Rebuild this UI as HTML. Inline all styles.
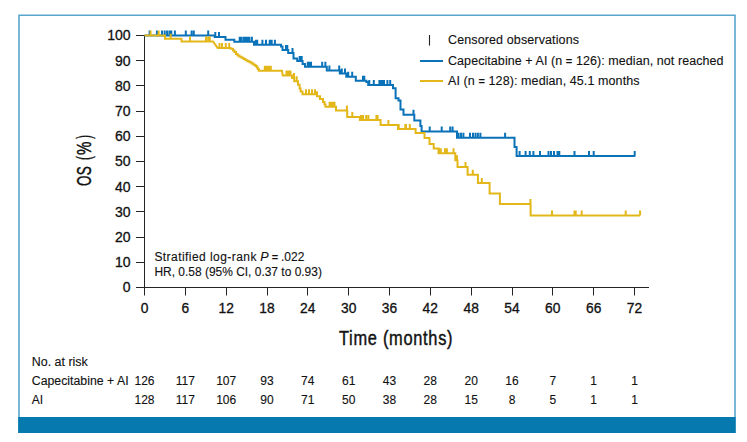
<!DOCTYPE html>
<html><head><meta charset="utf-8"><style>
html,body{margin:0;padding:0;background:#fff;width:747px;height:442px;overflow:hidden;font-family:"Liberation Sans",sans-serif;}
svg{display:block}
</style></head><body>
<svg width="747" height="442" viewBox="0 0 747 442">
<rect x="0" y="0" width="747" height="442" fill="#fff"/>
<path d="M19,433 V15.2 H735 V433" fill="none" stroke="#58a6cc" stroke-width="1.6"/>
<rect x="18.2" y="417" width="717.4" height="16" fill="#0679af"/>
<path d="M144.5,35 V287.5 M136,287.5 H649 M136,287.5 H144.5 M136,262.5 H144.5 M136,237.5 H144.5 M136,211.5 H144.5 M136,186.5 H144.5 M136,161.5 H144.5 M136,136.5 H144.5 M136,111.5 H144.5 M136,85.5 H144.5 M136,60.5 H144.5 M136,35.5 H144.5 M144.5,287.5 V295.5 M185.5,287.5 V295.5 M226.5,287.5 V295.5 M267.5,287.5 V295.5 M307.5,287.5 V295.5 M348.5,287.5 V295.5 M389.5,287.5 V295.5 M430.5,287.5 V295.5 M471.5,287.5 V295.5 M512.5,287.5 V295.5 M552.5,287.5 V295.5 M593.5,287.5 V295.5 M634.5,287.5 V295.5 " fill="none" stroke="#242424" stroke-width="1"/>
<path d="M144.5,35.4 L214.8,35.4 L214.8,36.9 L225.5,36.9 L225.5,39.8 L234.3,39.8 L234.3,41.8 L254.0,41.8 L254.0,44.8 L281.0,44.8 L281.0,46.4 L282.5,46.4 L282.5,50.0 L288.2,50.0 L288.2,52.9 L293.5,52.9 L293.5,58.4 L297.2,58.4 L297.2,60.9 L302.6,60.9 L302.6,64.1 L305.0,64.1 L305.0,66.7 L326.8,66.7 L326.8,70.4 L339.8,70.4 L339.8,73.6 L346.3,73.6 L346.3,76.8 L355.8,76.8 L355.8,80.8 L366.4,80.8 L366.4,82.0 L368.2,82.0 L368.2,84.9 L393.0,84.9 L393.0,88.2 L395.6,88.2 L395.6,98.2 L398.5,98.2 L398.5,100.6 L400.5,100.6 L400.5,109.6 L403.5,109.6 L403.5,114.8 L414.3,114.8 L414.3,120.6 L420.4,120.6 L420.4,126.1 L421.6,126.1 L421.6,131.4 L457.0,131.4 L457.0,137.7 L514.5,137.7 L514.5,147.1 L516.6,147.1 L516.6,156.0 L635.3,156.0 M149.6,35.4 V30.4 M156.9,35.4 V30.4 M162.0,35.4 V30.4 M164.7,35.4 V30.4 M167.1,35.4 V30.4 M169.5,35.4 V30.4 M171.3,35.4 V30.4 M174.9,35.4 V30.4 M185.8,35.4 V30.4 M191.6,35.4 V30.4 M193.8,35.4 V30.4 M208.2,35.4 V30.4 M215.3,36.9 V31.9 M219.0,36.9 V31.9 M239.7,41.8 V36.8 M241.0,41.8 V36.8 M243.3,41.8 V36.8 M244.9,41.8 V36.8 M246.5,41.8 V36.8 M248.4,41.8 V36.8 M249.4,41.8 V36.8 M251.9,41.8 V36.8 M256.0,44.8 V39.8 M257.2,44.8 V39.8 M262.4,44.8 V39.8 M266.0,44.8 V39.8 M269.7,44.8 V39.8 M271.7,44.8 V39.8 M274.9,44.8 V39.8 M286.0,50.0 V45.0 M287.3,50.0 V45.0 M292.5,52.9 V47.9 M299.7,60.9 V55.9 M301.7,60.9 V55.9 M307.8,66.7 V61.7 M309.4,66.7 V61.7 M311.0,66.7 V61.7 M322.2,66.7 V61.7 M325.4,66.7 V61.7 M329.4,70.4 V65.4 M339.2,70.4 V65.4 M341.8,73.6 V68.6 M345.0,73.6 V68.6 M348.2,76.8 V71.8 M352.2,76.8 V71.8 M363.0,80.8 V75.8 M364.3,80.8 V75.8 M369.3,84.9 V79.9 M373.8,84.9 V79.9 M379.4,84.9 V79.9 M381.0,84.9 V79.9 M382.5,84.9 V79.9 M384.0,84.9 V79.9 M387.4,84.9 V79.9 M390.2,84.9 V79.9 M413.5,114.8 V109.8 M429.7,131.4 V126.4 M441.7,131.4 V126.4 M450.2,131.4 V126.4 M452.6,131.4 V126.4 M458.6,137.7 V132.7 M461.0,137.7 V132.7 M463.4,137.7 V132.7 M470.0,137.7 V132.7 M473.0,137.7 V132.7 M475.5,137.7 V132.7 M477.9,137.7 V132.7 M480.4,137.7 V132.7 M505.1,137.7 V132.7 M519.6,156.0 V151.0 M525.6,156.0 V151.0 M529.8,156.0 V151.0 M533.4,156.0 V151.0 M540.0,156.0 V151.0 M548.5,156.0 V151.0 M551.0,156.0 V151.0 M554.0,156.0 V151.0 M557.5,156.0 V151.0 M559.3,156.0 V151.0 M574.5,156.0 V151.0 M589.0,156.0 V151.0 M593.7,156.0 V151.0 M634.7,156.0 V151.0" fill="none" stroke="#0a72b8" stroke-width="2"/>
<path d="M144.5,35.4 L165.0,35.4 L165.0,38.8 L181.5,38.8 L181.5,41.5 L213.0,41.5 L217.6,47.9 L230.0,47.9 L230.6,47.9 L230.6,48.7 L233.0,48.7 L233.0,50.4 L234.5,50.4 L234.5,51.9 L236.0,51.9 L236.0,53.9 L237.5,53.9 L237.5,55.6 L239.5,55.6 L239.5,56.8 L241.5,56.8 L241.5,57.8 L243.5,57.8 L243.5,59.0 L245.5,59.0 L245.5,60.2 L247.5,60.2 L247.5,61.2 L249.5,61.2 L249.5,62.2 L251.5,62.2 L251.5,63.4 L253.5,63.4 L253.5,64.7 L255.5,64.7 L255.5,66.0 L256.8,66.0 L256.8,67.4 L257.8,67.4 L257.8,69.0 L258.8,69.0 L258.8,70.8 L282.0,70.8 L282.8,75.6 L292.0,75.6 L292.0,78.0 L294.2,78.0 L294.2,81.2 L298.0,81.2 L298.0,84.8 L299.6,84.8 L299.6,88.4 L300.6,88.4 L300.6,91.4 L302.5,91.4 L302.5,94.2 L317.0,94.2 L317.0,96.3 L320.0,96.3 L320.0,99.0 L323.0,99.0 L323.0,101.9 L324.5,101.9 L324.5,104.4 L325.5,104.4 L325.5,106.7 L336.0,106.7 L336.0,110.4 L347.2,110.4 L347.2,117.1 L359.9,117.1 L359.9,120.0 L380.6,120.0 L380.6,124.9 L398.0,124.9 L398.0,128.9 L415.6,128.9 L415.6,133.1 L424.5,133.1 L424.5,137.9 L429.5,137.9 L429.5,143.9 L433.7,143.9 L433.7,148.6 L438.5,148.6 L438.5,153.3 L455.3,153.3 L455.3,160.3 L457.5,160.3 L457.5,166.9 L467.6,166.9 L467.6,174.7 L477.9,174.7 L477.9,182.9 L489.6,182.9 L489.6,193.4 L499.9,193.4 L499.9,204.1 L530.6,204.1 L530.6,215.4 L640.1,215.4 M150.6,35.4 V30.4 M158.7,35.4 V30.4 M170.7,38.8 V33.8 M190.0,41.5 V36.5 M206.0,41.5 V36.5 M208.2,41.5 V36.5 M209.8,41.5 V36.5 M219.5,47.9 V42.9 M222.0,47.9 V42.9 M225.8,47.9 V42.9 M229.2,47.9 V42.9 M264.8,70.8 V65.8 M266.8,70.8 V65.8 M268.8,70.8 V65.8 M270.8,70.8 V65.8 M286.5,75.6 V70.6 M288.5,75.6 V70.6 M290.5,75.6 V70.6 M294.0,78.0 V73.0 M296.7,81.2 V76.2 M306.0,94.2 V89.2 M309.0,94.2 V89.2 M312.0,94.2 V89.2 M315.0,94.2 V89.2 M317.0,96.3 V91.3 M329.6,106.7 V101.7 M331.0,106.7 V101.7 M333.0,106.7 V101.7 M334.5,106.7 V101.7 M346.9,110.4 V105.4 M352.3,117.1 V112.1 M361.0,120.0 V115.0 M363.0,120.0 V115.0 M366.2,120.0 V115.0 M368.4,120.0 V115.0 M376.4,120.0 V115.0 M377.6,120.0 V115.0 M388.4,124.9 V119.9 M398.7,128.9 V123.9 M405.3,128.9 V123.9 M406.0,128.9 V123.9 M409.8,128.9 V123.9 M439.6,153.3 V148.3 M440.8,153.3 V148.3 M445.0,153.3 V148.3 M446.9,153.3 V148.3 M453.5,153.3 V148.3 M457.0,160.3 V155.3 M465.5,166.9 V161.9 M472.8,174.7 V169.7 M481.8,182.9 V177.9 M530.4,204.1 V199.1 M552.0,215.4 V210.4 M574.5,215.4 V210.4 M575.7,215.4 V210.4 M581.7,215.4 V210.4 M625.7,215.4 V210.4 M640.1,215.4 V210.4" fill="none" stroke="#e3b71a" stroke-width="2"/>
<path d="M429.5,35 V45.6" stroke="#222" stroke-width="1.1"/>
<path d="M420,61 H443" stroke="#0a72b8" stroke-width="2"/>
<path d="M420,81 H443" stroke="#e3b71a" stroke-width="2"/>
<g font-family="Liberation Sans" style="font-variant-ligatures:none" fill="#111" stroke="#111" stroke-width="0.12">
<text x="130.5" y="292.4" font-size="14" text-anchor="end" stroke-width="0.3">0</text>
<text x="130.5" y="267.2" font-size="14" text-anchor="end" stroke-width="0.3">10</text>
<text x="130.5" y="242.0" font-size="14" text-anchor="end" stroke-width="0.3">20</text>
<text x="130.5" y="216.8" font-size="14" text-anchor="end" stroke-width="0.3">30</text>
<text x="130.5" y="191.6" font-size="14" text-anchor="end" stroke-width="0.3">40</text>
<text x="130.5" y="166.4" font-size="14" text-anchor="end" stroke-width="0.3">50</text>
<text x="130.5" y="141.2" font-size="14" text-anchor="end" stroke-width="0.3">60</text>
<text x="130.5" y="116.0" font-size="14" text-anchor="end" stroke-width="0.3">70</text>
<text x="130.5" y="90.8" font-size="14" text-anchor="end" stroke-width="0.3">80</text>
<text x="130.5" y="65.6" font-size="14" text-anchor="end" stroke-width="0.3">90</text>
<text x="130.5" y="40.4" font-size="14" text-anchor="end" stroke-width="0.3">100</text>
<text x="144.5" y="313.2" font-size="13.8" text-anchor="middle" stroke-width="0.3">0</text>
<text x="185.3" y="313.2" font-size="13.8" text-anchor="middle" stroke-width="0.3">6</text>
<text x="226.2" y="313.2" font-size="13.8" text-anchor="middle" stroke-width="0.3">12</text>
<text x="267.0" y="313.2" font-size="13.8" text-anchor="middle" stroke-width="0.3">18</text>
<text x="307.8" y="313.2" font-size="13.8" text-anchor="middle" stroke-width="0.3">24</text>
<text x="348.7" y="313.2" font-size="13.8" text-anchor="middle" stroke-width="0.3">30</text>
<text x="389.5" y="313.2" font-size="13.8" text-anchor="middle" stroke-width="0.3">36</text>
<text x="430.3" y="313.2" font-size="13.8" text-anchor="middle" stroke-width="0.3">42</text>
<text x="471.2" y="313.2" font-size="13.8" text-anchor="middle" stroke-width="0.3">48</text>
<text x="512.0" y="313.2" font-size="13.8" text-anchor="middle" stroke-width="0.3">54</text>
<text x="552.8" y="313.2" font-size="13.8" text-anchor="middle" stroke-width="0.3">60</text>
<text x="593.7" y="313.2" font-size="13.8" text-anchor="middle" stroke-width="0.3">66</text>
<text x="634.5" y="313.2" font-size="13.8" text-anchor="middle" stroke-width="0.3">72</text>
<text x="0" y="0" font-size="20.5" stroke-width="0.45" textLength="141.9" lengthAdjust="spacing" transform="translate(339,344.7) scale(0.8,1)">Time (months)</text>
<g transform="translate(91.3,186) rotate(-90)" stroke-width="0.45" font-size="20.5"><text x="0" y="0" transform="scale(0.66,1)" textLength="30.0" lengthAdjust="spacing">OS</text><text x="0" y="0" transform="translate(26,0) scale(0.55,1)">(</text><text x="0" y="0" transform="translate(31,0) scale(0.74,1)">%</text><text x="0" y="0" transform="translate(47.3,0) scale(0.55,1)">)</text></g>
<text x="448" y="44.3" font-size="12.5" textLength="131" lengthAdjust="spacing">Censored observations</text>
<text x="448" y="65" font-size="12.5" textLength="275.5" lengthAdjust="spacing">Capecitabine + AI (n <tspan font-weight="bold" font-size="11">=</tspan> 126): median, not reached</text>
<text x="448" y="85.2" font-size="12.5" textLength="191.5" lengthAdjust="spacing">AI (n <tspan font-weight="bold" font-size="11">=</tspan> 128): median, 45.1 months</text>
<text x="154.4" y="260.7" font-size="12" textLength="102" lengthAdjust="spacing">Stratified log-rank</text>
<text x="260.2" y="260.7" font-size="12.5" font-style="italic">P</text>
<text x="271.8" y="260.7" font-size="11" font-weight="bold">=</text>
<text x="281" y="260.7" font-size="12">.022</text>
<text x="154.4" y="276" font-size="12" textLength="167.5" lengthAdjust="spacingAndGlyphs">HR, 0.58 (95% CI, 0.37 to 0.93)</text>
<text x="31.8" y="366" font-size="12" textLength="56" lengthAdjust="spacingAndGlyphs">No. at risk</text>
<text x="31.8" y="384.8" font-size="12" textLength="96.8" lengthAdjust="spacingAndGlyphs">Capecitabine + AI</text>
<text x="31.8" y="403.6" font-size="12">AI</text>
<text x="144.5" y="384.8" font-size="12" text-anchor="middle">126</text>
<text x="144.5" y="403.6" font-size="12" text-anchor="middle">128</text>
<text x="185.3" y="384.8" font-size="12" text-anchor="middle">117</text>
<text x="185.3" y="403.6" font-size="12" text-anchor="middle">117</text>
<text x="226.2" y="384.8" font-size="12" text-anchor="middle">107</text>
<text x="226.2" y="403.6" font-size="12" text-anchor="middle">106</text>
<text x="267.0" y="384.8" font-size="12" text-anchor="middle">93</text>
<text x="267.0" y="403.6" font-size="12" text-anchor="middle">90</text>
<text x="307.8" y="384.8" font-size="12" text-anchor="middle">74</text>
<text x="307.8" y="403.6" font-size="12" text-anchor="middle">71</text>
<text x="348.7" y="384.8" font-size="12" text-anchor="middle">61</text>
<text x="348.7" y="403.6" font-size="12" text-anchor="middle">50</text>
<text x="389.5" y="384.8" font-size="12" text-anchor="middle">43</text>
<text x="389.5" y="403.6" font-size="12" text-anchor="middle">38</text>
<text x="430.3" y="384.8" font-size="12" text-anchor="middle">28</text>
<text x="430.3" y="403.6" font-size="12" text-anchor="middle">28</text>
<text x="471.2" y="384.8" font-size="12" text-anchor="middle">20</text>
<text x="471.2" y="403.6" font-size="12" text-anchor="middle">15</text>
<text x="512.0" y="384.8" font-size="12" text-anchor="middle">16</text>
<text x="512.0" y="403.6" font-size="12" text-anchor="middle">8</text>
<text x="552.8" y="384.8" font-size="12" text-anchor="middle">7</text>
<text x="552.8" y="403.6" font-size="12" text-anchor="middle">5</text>
<text x="593.7" y="384.8" font-size="12" text-anchor="middle">1</text>
<text x="593.7" y="403.6" font-size="12" text-anchor="middle">1</text>
<text x="634.5" y="384.8" font-size="12" text-anchor="middle">1</text>
<text x="634.5" y="403.6" font-size="12" text-anchor="middle">1</text>
</g>
</svg>
</body></html>
